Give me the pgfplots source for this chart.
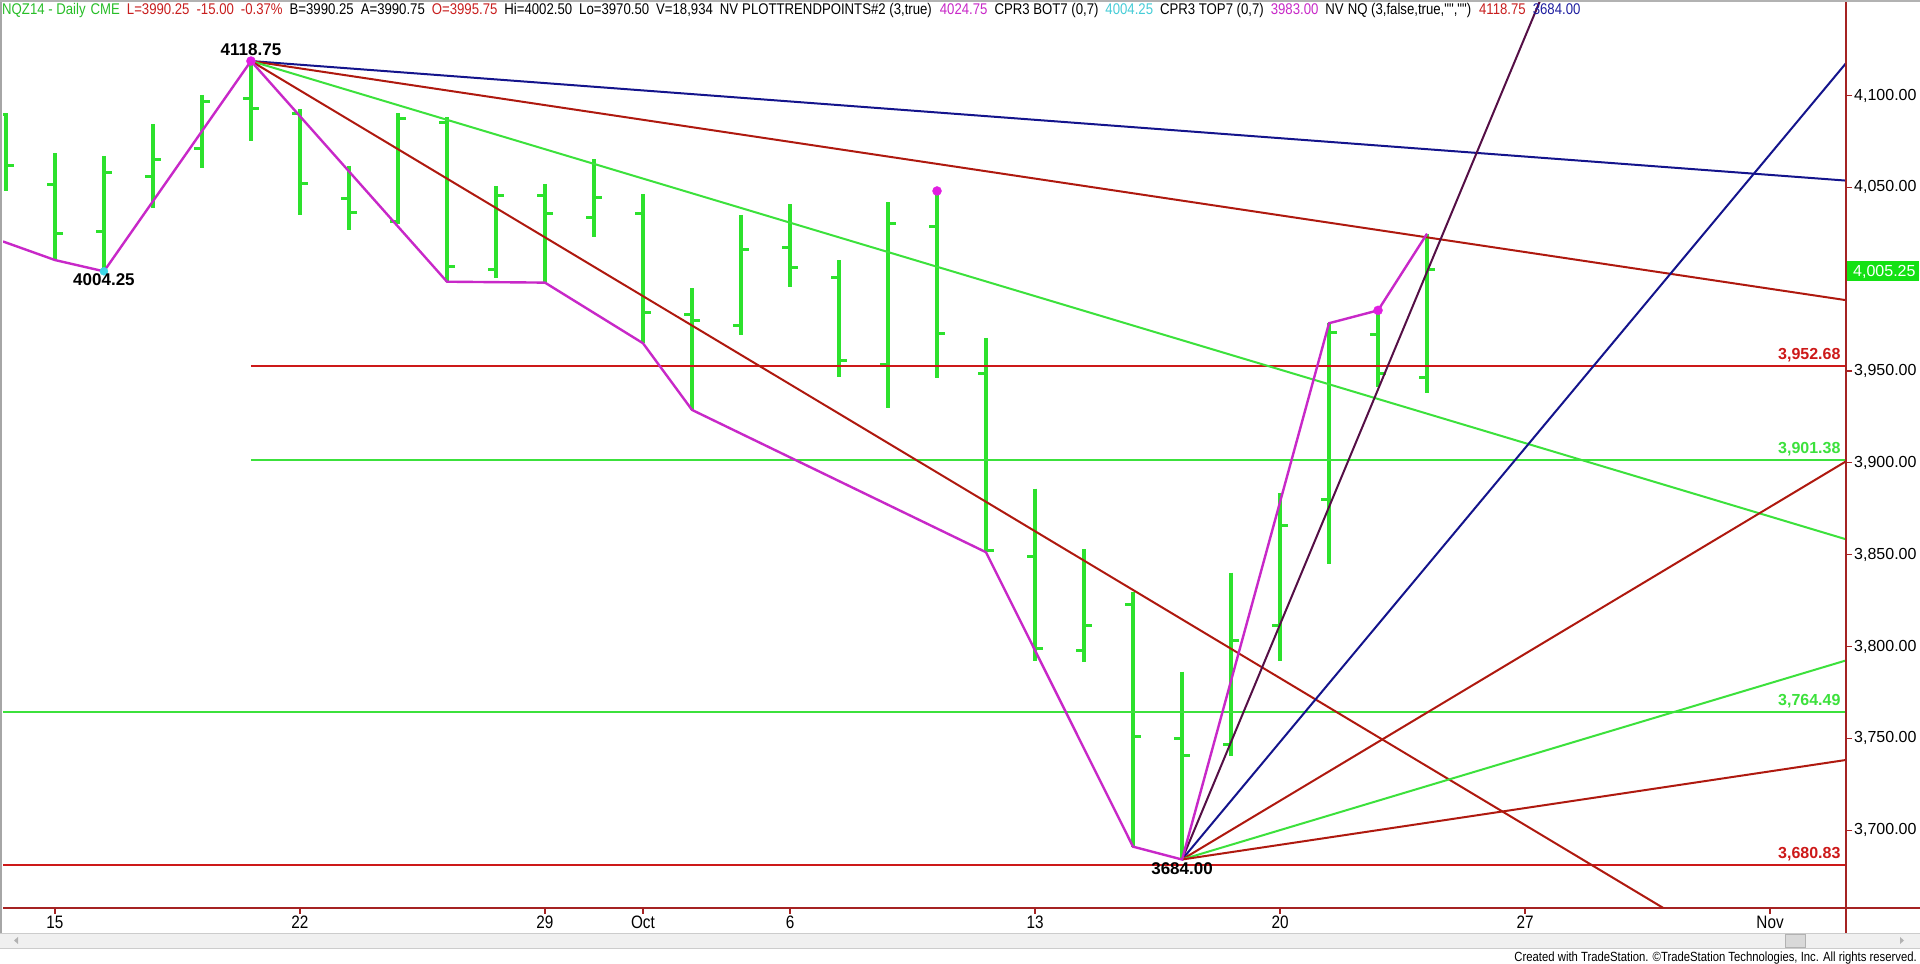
\documentclass[border=0pt]{standalone}
\usepackage{pgfplots}
\pgfplotsset{compat=1.18}
\usepackage{pgfplotstable}
\usepackage{fontspec}
\setmainfont{Liberation Sans}
\newfontfamily\narrow[FakeStretch=0.85]{Liberation Sans}

\definecolor{barg}{RGB}{45,225,45}
\definecolor{zig}{RGB}{200,40,200}
\definecolor{dotm}{RGB}{225,30,225}
\definecolor{cyandot}{RGB}{60,215,230}
\definecolor{fanred}{RGB}{175,25,15}
\definecolor{hred}{RGB}{205,25,25}
\definecolor{navy}{RGB}{20,20,140}
\definecolor{plum}{RGB}{85,15,70}
\definecolor{fang}{RGB}{60,225,60}
\definecolor{axred}{RGB}{165,35,35}
\definecolor{hdrgreen}{RGB}{40,190,40}
\definecolor{hdrred}{RGB}{200,30,30}
\definecolor{hdrmag}{RGB}{200,40,200}
\definecolor{hdrcyan}{RGB}{70,205,215}
\definecolor{hdrblue}{RGB}{30,30,160}
\definecolor{boxg}{RGB}{20,225,20}

% daily bars, i = trading day counted from Mon 15 Sep
\pgfplotstableread{
i  o       h        l        c
-1 4089.4  4090.3   4048.2   4061.6
0  4051.3  4068.5   4010.4   4024.9
1  4026.2  4067.1   4004.25  4058.2
2  4055.8  4084.3   4038.6   4064.9
3  4070.9  4100.3   4060.3   4096.6
4  4098.5  4118.75  4075.2   4093.0
5  4090.0  4092.5   4035.0   4052.2
6  4044.0  4061.6   4026.8   4036.4
7  4031.3  4090.3   4030.0   4087.6
8  4085.2  4088.1   3998.6   4006.8
9  4005.0  4050.7   4000.4   4045.8
10 4045.8  4051.8   3998.1   4035.5
11 4033.7  4065.2   4023.1   4044.5
12 4035.8  4046.2   3965.1   3982.0
13 3981.0  3995.0   3928.8   3977.4
14 3974.5  4035.0   3969.6   4015.9
15 4017.3  4040.7   3995.6   4006.5
16 4001.0  4010.4   3946.9   3955.6
17 3953.3  4041.8   3929.7   4030.4
18 4028.6  4047.25  3946.0   3970.2
19 3948.7  3968.0   3851.3   3852.0
20 3849.0  3886.0   3792.0   3799.0
21 3797.6  3852.9   3791.8   3811.2
22 3823.0  3829.9   3691.0   3750.9
23 3750.0  3786.3   3684.0   3740.6
24 3746.7  3840.2   3740.6   3803.5
25 3811.2  3883.4   3792.1   3865.6
26 3879.8  3976.0   3844.7   3970.9
27 3970.0  3983.0   3941.1   3948.4
28 3946.4  4024.75  3938.2   4005.25
}\bars

\begin{document}
\begin{tikzpicture}[x=1pt,y=1pt]
\useasboundingbox (0,0) rectangle (1920,964);
\fill[white] (0,0) rectangle (1920,964);

\begin{axis}[
  at={(3pt,56pt)}, anchor=south west,
  scale only axis, width=1843pt, height=906pt,
  xmin=-1.06, xmax=36.55, ymin=3657.6, ymax=4150.9,
  axis x line*=bottom, axis y line*=right,
  axis line style={axred, line width=1.6pt, -},
  xtick={0,5,10,12,15,20,25,30,35},
  xticklabels={15,22,29,Oct,6,13,20,27,Nov},
  ytick={3700,3750,...,4100},
  yticklabels={{3,700.00},{3,750.00},{3,800.00},{3,850.00},{3,900.00},{3,950.00},{},{4,050.00},{4,100.00}},
  tick align=outside, major tick length=6pt,
  tick style={axred, line width=1.2pt},
  x tick label style={font=\narrow\fontsize{18}{20}\selectfont, inner sep=2pt},
  y tick label style={font=\fontsize{16}{18}\selectfont, anchor=west, inner sep=2pt},
  clip mode=individual,
]
% OHLC bars
\addplot[barg, line width=3.2pt, quiver={u=0, v=\thisrow{l}-\thisrow{h}}] table[x=i, y=h] {\bars};
\addplot[barg, line width=3pt, quiver={u=-0.17, v=0}] table[x=i, y=o] {\bars};
\addplot[barg, line width=3pt, quiver={u=0.17, v=0}] table[x=i, y=c] {\bars};

% horizontal levels
\addplot[hred, line width=2pt] coordinates {(4,3952.68) (36.6,3952.68)};
\addplot[fang, line width=2pt] coordinates {(4,3901.38) (36.6,3901.38)};
\addplot[fang, line width=2pt] coordinates {(-2,3764.49) (36.6,3764.49)};
\addplot[hred, line width=2pt] coordinates {(-2,3680.83) (36.6,3680.83)};

% fan from the high
\addplot[navy, line width=2pt] coordinates {(4,4118.75) (36.6,4053.55)};
\addplot[fanred, line width=2pt] coordinates {(4,4118.75) (36.6,3988.35)};
\addplot[fang, line width=2pt] coordinates {(4,4118.75) (36.6,3857.95)};
\addplot[fanred, line width=2pt] coordinates {(4,4118.75) (36.6,3597.15)};
% fan from the low
\addplot[plum, line width=2pt] coordinates {(23,3684) (31,4196)};
\addplot[navy, line width=2pt] coordinates {(23,3684) (36.6,4119.2)};
\addplot[fanred, line width=2pt] coordinates {(23,3684) (36.6,3901.6)};
\addplot[fang, line width=2pt] coordinates {(23,3684) (36.6,3792.8)};
\addplot[fanred, line width=2pt] coordinates {(23,3684) (36.6,3738.4)};

% swing line
\addplot[zig, line width=2.4pt] coordinates {(-1.06,4020.5) (0,4010.4) (1,4004.25) (4,4118.75)
  (8,3998.6) (10,3998.1) (12,3965.1) (13,3928.8) (19,3851.3) (22,3691) (23,3684)
  (26,3976) (27,3983) (28,4024.75)};
\addplot[only marks, mark=*, mark size=4.5pt, dotm] coordinates {(4,4118.75) (18,4048) (27,3983)};
\addplot[only marks, mark=*, mark size=4pt, cyandot] coordinates {(1,4004.25)};

% labels
\node[font=\bfseries\fontsize{17}{19}\selectfont, anchor=south, inner sep=0pt, yshift=5pt] at (axis cs:4,4118.75) {4118.75};
\node[font=\bfseries\fontsize{17}{19}\selectfont, anchor=north, inner sep=0pt, yshift=-2pt] at (axis cs:1,4004.25) {4004.25};
\node[font=\bfseries\fontsize{17}{19}\selectfont, anchor=north, inner sep=0pt, yshift=-3pt] at (axis cs:23,3684) {3684.00};
\node[font=\bfseries\fontsize{16}{18}\selectfont, text=hred, anchor=south east, inner sep=0pt, yshift=4pt] at (axis cs:36.44,3952.68) {3,952.68};
\node[font=\bfseries\fontsize{16}{18}\selectfont, text=fang, anchor=south east, inner sep=0pt, yshift=4pt] at (axis cs:36.44,3901.38) {3,901.38};
\node[font=\bfseries\fontsize{16}{18}\selectfont, text=fang, anchor=south east, inner sep=0pt, yshift=4pt] at (axis cs:36.44,3764.49) {3,764.49};
\node[font=\bfseries\fontsize{16}{18}\selectfont, text=hred, anchor=south east, inner sep=0pt, yshift=4pt] at (axis cs:36.44,3680.83) {3,680.83};
\node[fill=boxg, text=white, font=\fontsize{16}{18}\selectfont, anchor=west, inner sep=0pt,
  minimum height=20pt, text width=72pt, xshift=1pt, yshift=-2pt] at (axis cs:36.55,4005.25) {\hspace{6pt}4,005.25};
\end{axis}

% frame pieces
\draw[axred, line width=1.6pt] (1846,31) -- (1846,964);
\draw[axred, line width=1.6pt] (1846,56) -- (1920,56);
\draw[gray!70, line width=2pt] (1,16) -- (1,964);
\draw[gray!60, line width=2pt] (0,963) -- (1920,963);
% scroll bar
\fill[gray!12] (0,16) rectangle (1920,31);
\draw[gray!40] (0,16) -- (1920,16) (0,31) -- (1920,31);
\fill[gray!30] (1785,17) rectangle (1805,30);
\draw[gray!60] (1785,17) rectangle (1805,30);
\fill[gray!60] (18,20) -- (18,27) -- (14,23.5) -- cycle;
\fill[gray!60] (1900,20) -- (1900,27) -- (1904,23.5) -- cycle;

% header
\node[anchor=west, inner sep=0pt, font=\narrow\fontsize{15.5}{17}\selectfont] at (2,953) {%
{\color{hdrgreen}NQZ14 - Daily\hspace{5pt}CME}\hspace{7pt}%
{\color{hdrred}L=3990.25\hspace{7pt}-15.00\hspace{7pt}-0.37\%}\hspace{7pt}%
B=3990.25\hspace{7pt}A=3990.75\hspace{7pt}{\color{hdrred}O=3995.75}\hspace{7pt}%
Hi=4002.50\hspace{7pt}Lo=3970.50\hspace{7pt}V=18,934\hspace{7pt}NV\hspace{4pt}PLOTTRENDPOINTS\#2 (3,true)\hspace{8pt}%
{\color{hdrmag}4024.75}\hspace{7pt}CPR3 BOT7 (0,7)\hspace{7pt}{\color{hdrcyan}4004.25}\hspace{7pt}%
CPR3 TOP7 (0,7)\hspace{7pt}{\color{hdrmag}3983.00}\hspace{7pt}NV\hspace{4pt}NQ (3,false,true,"","")\hspace{8pt}%
{\color{hdrred}4118.75}\hspace{7pt}{\color{hdrblue}3684.00}};

% footer
\node[anchor=east, inner sep=0pt, font=\narrow\fontsize{13.3}{15}\selectfont] at (1917,6) {Created with TradeStation. ©TradeStation Technologies, Inc. All rights reserved.};
\end{tikzpicture}
\end{document}
